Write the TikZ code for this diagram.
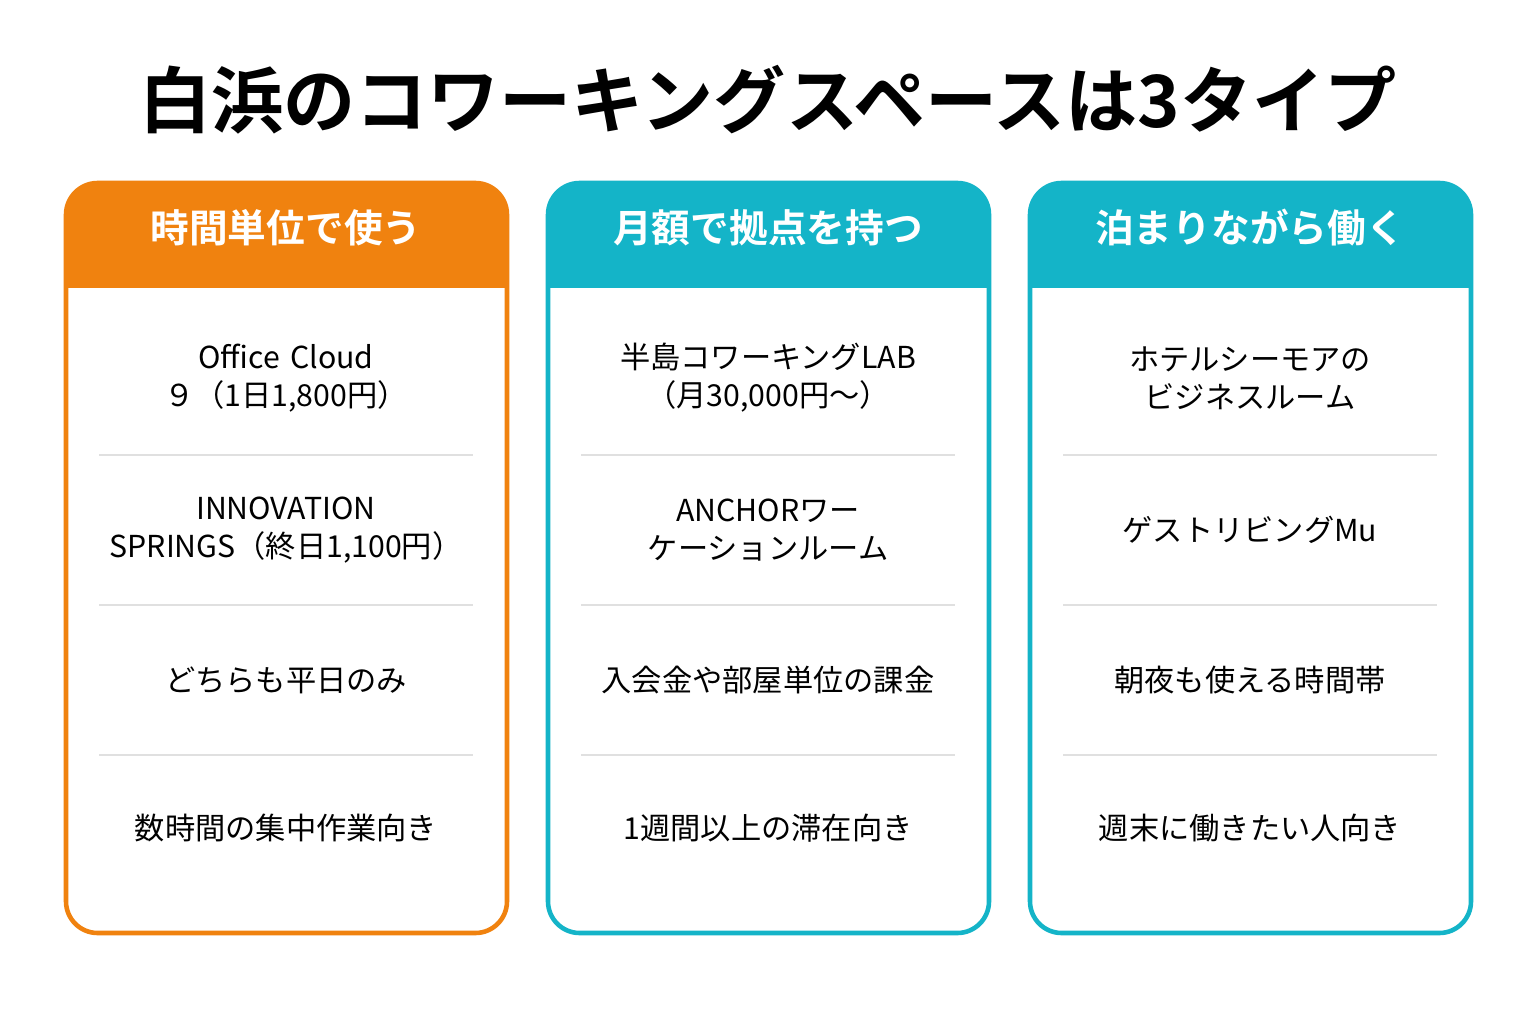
\documentclass[tikz,border=0pt]{standalone}
\usepackage{fontspec}
\setmainfont{Noto Sans CJK JP}
\newfontfamily\boldjp{Noto Sans CJK JP Bold}
\usetikzlibrary{positioning}
\definecolor{hourorange}{HTML}{F0820F}
\definecolor{stayteal}{HTML}{14B4C8}
\definecolor{rulegray}{HTML}{E0E0E0}
\tikzset{
  header/.style={text=white,font=\boldjp\fontsize{11}{13}\selectfont},
  entry/.style={align=center,text width=3.9cm,font=\fontsize{8.6}{10.8}\selectfont},
  title/.style={font=\boldjp\fontsize{20.5}{24}\selectfont}
}
\begin{document}
\begin{tikzpicture}[x=0.01cm,y=-0.01cm]
  \useasboundingbox[fill=white] (0,0) rectangle (1536,1024);
  \node[title] (title) at (768,100) {白浜のコワーキングスペースは3タイプ};

  \foreach \x/\c/\h/\name/\a/\b/\d/\e in {
      66/hourorange/時間単位で使う/hour/{Office Cloud\\９（1日1,800円）}/{INNOVATION\\SPRINGS（終日1,100円）}/どちらも平日のみ/数時間の集中作業向き,
      548/stayteal/月額で拠点を持つ/month/{半島コワーキングLAB\\（月30,000円〜）}/{ANCHORワー\\ケーションルーム}/入会金や部屋単位の課金/1週間以上の滞在向き,
      1030/stayteal/泊まりながら働く/stay/{ホテルシーモアの\\ビジネスルーム}/ゲストリビングMu/朝夜も使える時間帯/週末に働きたい人向き} {
    \begin{scope}
      \clip[rounded corners=9] (\x,183) rectangle ++(441,750);
      \fill[\c] (\x,183) rectangle ++(441,105);
    \end{scope}
    \draw[\c,line width=1.3pt,rounded corners=9] (\x,183) rectangle ++(441,750);%card border
    \node[header] (\name-head) at (\x+220,228) {\h};
    \node[entry] (\name-1) at (\x+220,378) {\a};
    \node[entry] (\name-2) at (\x+220,530) {\b};
    \node[entry] (\name-3) at (\x+220,680) {\d};
    \node[entry] (\name-4) at (\x+220,828) {\e};
    \foreach \yy in {455,605,755} {
        \draw[rulegray,line width=0.8pt] (\x+33,\yy) -- (\x+407,\yy);
      }
  }
\end{tikzpicture}
\end{document}
